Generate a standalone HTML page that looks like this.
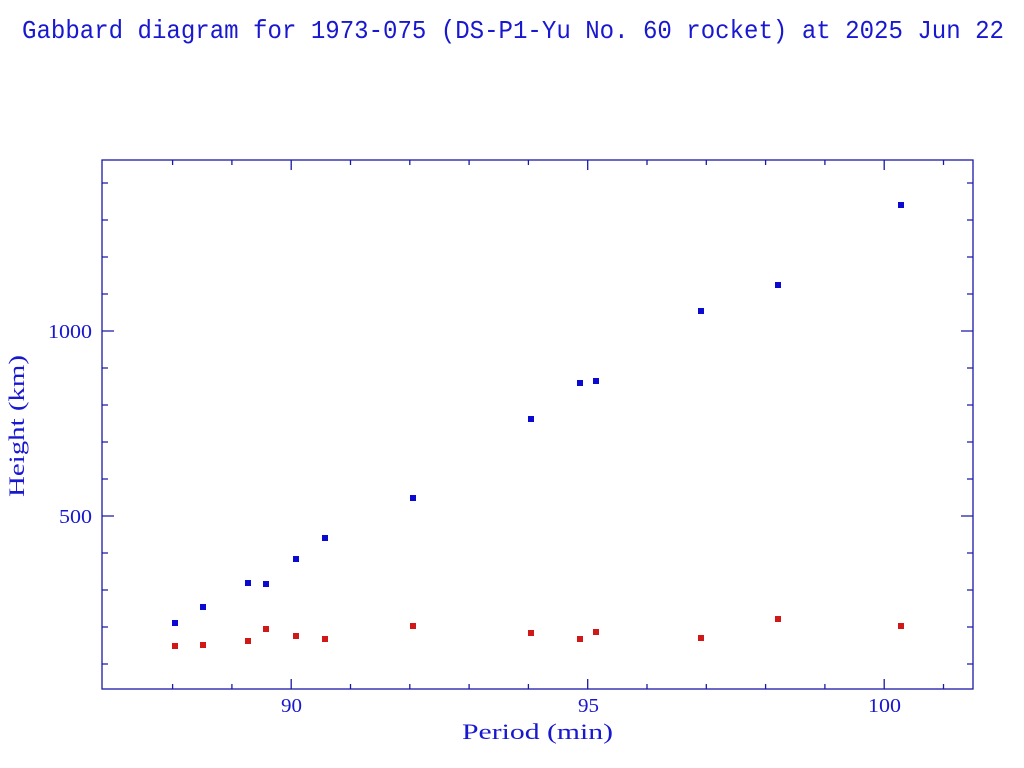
<!DOCTYPE html>
<html><head><meta charset="utf-8"><style>html,body{margin:0;padding:0;background:#fff}svg{display:block}</style></head>
<body>
<svg width="1024" height="768" viewBox="0 0 1024 768" xmlns="http://www.w3.org/2000/svg">
<rect width="1024" height="768" fill="#fff"/>
<text x="22" y="38" font-family="Liberation Mono, monospace" font-size="26" fill="#1818d0" textLength="982" lengthAdjust="spacingAndGlyphs">Gabbard diagram for 1973-075 (DS-P1-Yu No. 60 rocket) at 2025 Jun 22</text>
<g stroke="#1a1aa8" stroke-width="1.3" fill="none">
<rect x="102" y="160" width="871" height="529"/>
<path d="
M172.6,689v-5M231.9,689v-5M291.2,689v-10M350.5,689v-5M409.8,689v-5M469.1,689v-5M528.4,689v-5M587.7,689v-10M647,689v-5M706.3,689v-5M765.6,689v-5M824.9,689v-5M884.2,689v-10M943.5,689v-5
M172.6,160v5M231.9,160v5M291.2,160v10M350.5,160v5M409.8,160v5M469.1,160v5M528.4,160v5M587.7,160v10M647,160v5M706.3,160v5M765.6,160v5M824.9,160v5M884.2,160v10M943.5,160v5
M102,664h6M102,627h6M102,590h6M102,553h6M102,516h12M102,479h6M102,442h6M102,405h6M102,368h6M102,331h12M102,294h6M102,257h6M102,220h6M102,183h6
M973,664h-6M973,627h-6M973,590h-6M973,553h-6M973,516h-12M973,479h-6M973,442h-6M973,405h-6M973,368h-6M973,331h-12M973,294h-6M973,257h-6M973,220h-6M973,183h-6"/>
</g>
<g font-family="Liberation Serif, serif" font-size="20" fill="#1818d0">
<text x="281" y="712" textLength="21" lengthAdjust="spacingAndGlyphs">90</text>
<text x="578" y="712" textLength="21" lengthAdjust="spacingAndGlyphs">95</text>
<text x="868" y="712" textLength="33" lengthAdjust="spacingAndGlyphs">100</text>
<text x="48" y="338" textLength="44" lengthAdjust="spacingAndGlyphs">1000</text>
<text x="59" y="523" textLength="33" lengthAdjust="spacingAndGlyphs">500</text>
<text x="462" y="739" font-size="22" textLength="151" lengthAdjust="spacingAndGlyphs">Period (min)</text>
<text transform="translate(24,497) rotate(-90)" font-size="22" textLength="142" lengthAdjust="spacingAndGlyphs">Height (km)</text>
</g>
<g fill="#0a0ad0">
<rect x="172" y="620" width="6" height="6"/><rect x="200" y="604" width="6" height="6"/><rect x="245" y="580" width="6" height="6"/><rect x="263" y="581" width="6" height="6"/><rect x="293" y="556" width="6" height="6"/><rect x="322" y="535" width="6" height="6"/><rect x="410" y="495" width="6" height="6"/><rect x="528" y="416" width="6" height="6"/><rect x="577" y="380" width="6" height="6"/><rect x="593" y="378" width="6" height="6"/><rect x="698" y="308" width="6" height="6"/><rect x="775" y="282" width="6" height="6"/><rect x="898" y="202" width="6" height="6"/>
</g>
<g fill="#d01818">
<rect x="172" y="643" width="6" height="6"/><rect x="200" y="642" width="6" height="6"/><rect x="245" y="638" width="6" height="6"/><rect x="263" y="626" width="6" height="6"/><rect x="293" y="633" width="6" height="6"/><rect x="322" y="636" width="6" height="6"/><rect x="410" y="623" width="6" height="6"/><rect x="528" y="630" width="6" height="6"/><rect x="577" y="636" width="6" height="6"/><rect x="593" y="629" width="6" height="6"/><rect x="698" y="635" width="6" height="6"/><rect x="775" y="616" width="6" height="6"/><rect x="898" y="623" width="6" height="6"/>
</g>
</svg>
</body></html>
